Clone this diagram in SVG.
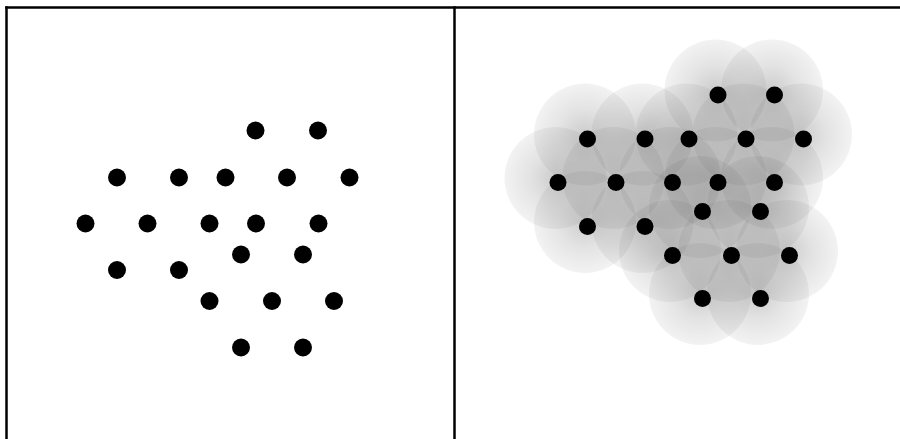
<svg xmlns="http://www.w3.org/2000/svg" width="900" height="439" viewBox="0 0 900 439">
<defs>
<style>
.frame{stroke:#000;stroke-width:2.5;fill:none}
.dot{fill:#000}
.halo{fill:url(#g)}
</style>
<radialGradient id="g" cx="0.5" cy="0.5" r="0.5">
<stop offset="0" stop-color="#000" stop-opacity="0.2"/>
<stop offset="0.5" stop-color="#000" stop-opacity="0.11"/>
<stop offset="1" stop-color="#000" stop-opacity="0.05"/>
</radialGradient>
</defs>
<rect width="900" height="439" fill="#fff"/>
<g id="frame">
<line class="frame" x1="5.25" y1="7.5" x2="900" y2="7.5"/>
<line class="frame" x1="6.5" y1="6.25" x2="6.5" y2="439"/>
<line class="frame" x1="454.5" y1="6.25" x2="454.5" y2="439"/>
</g>
<g id="left-dots">
<circle class="dot" cx="255.5" cy="130.5" r="9"/>
<circle class="dot" cx="318" cy="130.5" r="9"/>
<circle class="dot" cx="117" cy="177.5" r="9"/>
<circle class="dot" cx="179" cy="177.5" r="9"/>
<circle class="dot" cx="225.5" cy="177.5" r="9"/>
<circle class="dot" cx="287" cy="177.5" r="9"/>
<circle class="dot" cx="349.5" cy="177.5" r="9"/>
<circle class="dot" cx="85.5" cy="223.5" r="9"/>
<circle class="dot" cx="147.5" cy="223.5" r="9"/>
<circle class="dot" cx="209.5" cy="223.5" r="9"/>
<circle class="dot" cx="256" cy="223.5" r="9"/>
<circle class="dot" cx="318.5" cy="223.5" r="9"/>
<circle class="dot" cx="241" cy="254.5" r="9"/>
<circle class="dot" cx="303" cy="254.5" r="9"/>
<circle class="dot" cx="117" cy="270" r="9"/>
<circle class="dot" cx="179" cy="270" r="9"/>
<circle class="dot" cx="209.5" cy="301" r="9"/>
<circle class="dot" cx="272" cy="301" r="9"/>
<circle class="dot" cx="334" cy="301" r="9"/>
<circle class="dot" cx="241" cy="347.5" r="9"/>
<circle class="dot" cx="303" cy="347.5" r="9"/>
</g>
<g id="right-halos">
<circle class="halo" cx="715.5" cy="90.5" r="51"/>
<circle class="halo" cx="772" cy="90.5" r="51"/>
<circle class="halo" cx="585" cy="134.5" r="51"/>
<circle class="halo" cx="642.5" cy="134.5" r="51"/>
<circle class="halo" cx="686.5" cy="134.5" r="51"/>
<circle class="halo" cx="743.5" cy="134.5" r="51"/>
<circle class="halo" cx="801" cy="134.5" r="51"/>
<circle class="halo" cx="555.5" cy="178" r="51"/>
<circle class="halo" cx="613.5" cy="178" r="51"/>
<circle class="halo" cx="670" cy="178" r="51"/>
<circle class="halo" cx="715.5" cy="178" r="51"/>
<circle class="halo" cx="772" cy="178" r="51"/>
<circle class="halo" cx="700" cy="207" r="51"/>
<circle class="halo" cx="758" cy="207" r="51"/>
<circle class="halo" cx="585" cy="222" r="51"/>
<circle class="halo" cx="642.5" cy="222" r="51"/>
<circle class="halo" cx="670" cy="251" r="51"/>
<circle class="halo" cx="729" cy="251" r="51"/>
<circle class="halo" cx="787" cy="251" r="51"/>
<circle class="halo" cx="700" cy="294" r="51"/>
<circle class="halo" cx="758" cy="294" r="51"/>
</g>
<g id="right-dots">
<circle class="dot" cx="718" cy="95" r="8.5"/>
<circle class="dot" cx="774.5" cy="95" r="8.5"/>
<circle class="dot" cx="587.5" cy="139" r="8.5"/>
<circle class="dot" cx="645" cy="139" r="8.5"/>
<circle class="dot" cx="689" cy="139" r="8.5"/>
<circle class="dot" cx="746" cy="139" r="8.5"/>
<circle class="dot" cx="803.5" cy="139" r="8.5"/>
<circle class="dot" cx="558" cy="182.5" r="8.5"/>
<circle class="dot" cx="616" cy="182.5" r="8.5"/>
<circle class="dot" cx="672.5" cy="182.5" r="8.5"/>
<circle class="dot" cx="718" cy="182.5" r="8.5"/>
<circle class="dot" cx="774.5" cy="182.5" r="8.5"/>
<circle class="dot" cx="702.5" cy="211.5" r="8.5"/>
<circle class="dot" cx="760.5" cy="211.5" r="8.5"/>
<circle class="dot" cx="587.5" cy="226.5" r="8.5"/>
<circle class="dot" cx="645" cy="226.5" r="8.5"/>
<circle class="dot" cx="672.5" cy="255.5" r="8.5"/>
<circle class="dot" cx="731.5" cy="255.5" r="8.5"/>
<circle class="dot" cx="789.5" cy="255.5" r="8.5"/>
<circle class="dot" cx="702.5" cy="298.5" r="8.5"/>
<circle class="dot" cx="760.5" cy="298.5" r="8.5"/>
</g>
</svg>
